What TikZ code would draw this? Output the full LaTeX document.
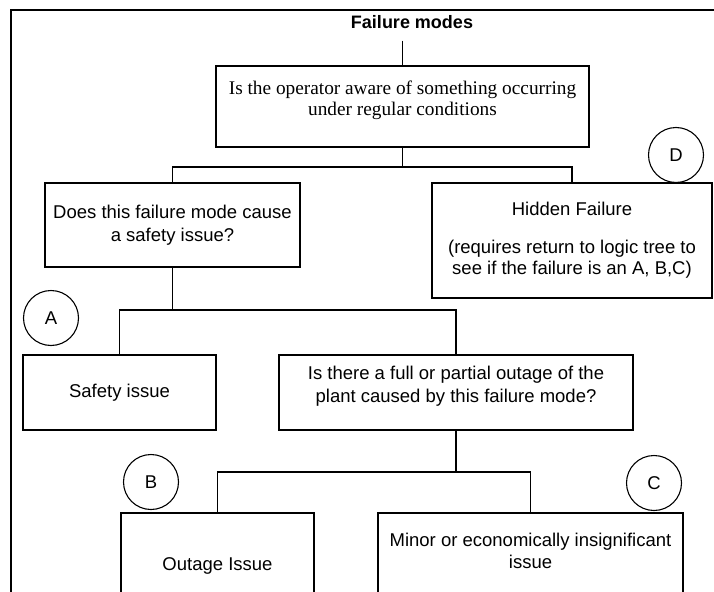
\documentclass[tikz,border=0pt]{standalone}
\usepackage{fontspec}
\setmainfont{Liberation Sans}
\newfontfamily\timesfont{Liberation Serif}
\usetikzlibrary{calc}

\tikzset{
  qbox/.style={draw, line width=1.8pt, align=center, inner sep=0pt,
               font=\fontsize{18.5}{22.5}\selectfont},
  tag/.style={circle, draw, line width=1.1pt, minimum size=55pt, inner sep=0pt,
              font=\fontsize{18.5}{22}\selectfont},
  wire/.style={line width=1.8pt}
}

\begin{document}
\begin{tikzpicture}[x=1pt,y=-1pt]
  \useasboundingbox (0,0) rectangle (714,591);
  \clip (0,0) rectangle (714,591);
  % outer frame (cut off right and bottom)
  \draw[line width=1.9pt] (11,10) rectangle (740,640);
  \node[font=\bfseries\fontsize{18}{20}\selectfont, anchor=base] (t) at (412,29) {Failure modes};
  % question boxes
  \node[qbox, minimum width=373pt, minimum height=81pt,
        font=\timesfont\fontsize{19.3}{21}\selectfont] (q0) at (402.5,106.5)
        {Is the operator aware of something occurring\\under regular conditions\\[-5pt]~};
  \node[qbox, minimum width=255pt, minimum height=84pt] (q1) at (172.5,225)
        {Does this failure mode cause\\a safety issue?};
  \node[qbox, minimum width=280pt, minimum height=115pt,
        font=\fontsize{18.5}{21}\selectfont] (hf) at (572,240.5)
        {Hidden Failure\\[17pt](requires return to logic tree to\\see if the failure is an A, B,C)};
  \node[qbox, minimum width=193pt, minimum height=75pt] (sf) at (119.5,392.5) {Safety issue};
  \node[qbox, minimum width=354pt, minimum height=75pt] (q2) at (456,392.5)
        {Is there a full or partial outage of the\\plant caused by this failure mode?\\[-6pt]~};
  \node[qbox, minimum width=193pt, minimum height=106pt] (ou) at (217.5,566) {Outage Issue};
  \node[qbox, minimum width=305pt, minimum height=94pt] (mi) at (530.5,560)
        {Minor or economically insignificant\\issue\\[-4pt]~};
  % category tags
  \node[tag] (ta) at (51,318) {A};
  \node[tag] (tb) at (151,482) {B};
  \node[tag] (tc) at (654,483) {C};
  \node[tag] (td) at (676,155) {D};
  % connectors
  \coordinate (j0) at (402.5,167);
  \coordinate (j1) at (172.5,310);
  \coordinate (j2) at (456,472);
  \draw[wire] ([yshift=-8pt]t.south -| q0.north) -- (q0.north);
  \draw[wire] (q0.south) -- (j0);
  \draw[wire] (q1.north) |- (j0) -| (hf.north);
  \draw[wire] (q1.south) -- (j1);
  \draw[wire] (sf.north) |- (j1) -| (q2.north);
  \draw[wire] (q2.south) -- (j2);
  \draw[wire] (ou.north) |- (j2) -| (mi.north);
\end{tikzpicture}
\end{document}
